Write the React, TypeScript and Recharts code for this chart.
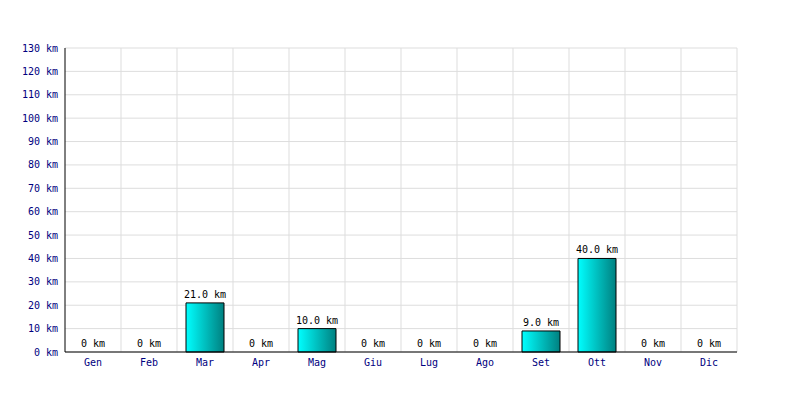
import { Bar, ComposedChart, CartesianGrid, Line, XAxis, YAxis } from 'recharts';

const months = ['Gen', 'Feb', 'Mar', 'Apr', 'Mag', 'Giu', 'Lug', 'Ago', 'Set', 'Ott', 'Nov', 'Dic'];
const distances = [0, 0, 21, 0, 10, 0, 0, 0, 9, 40, 0, 0];
const yTicks = [0, 10, 20, 30, 40, 50, 60, 70, 80, 90, 100, 110, 120, 130];

const data = months.map((month, i) => ({ month, km: distances[i] }));

const font = '"DejaVu Sans Mono", monospace';

const formatValue = (v: any) => (Number(v) === 0 ? '0 km' : `${Number(v).toFixed(1)} km`);

// labels hang off an invisible line so the zero months get one too
const ValueLabel = (props: any) => {
	const { x, y, value } = props;
	return (
		<text x={x} y={Number(y) - 5} textAnchor="middle" fill="#000" fontSize={10} fontFamily={font}>
			{formatValue(value)}
		</text>
	);
};

export default function App() {
	return (
		<div style={{ position: 'absolute', left: 0, top: 0, width: 800, height: 400, background: '#fff' }}>
			<ComposedChart
				width={800}
				height={400}
				data={data}
				margin={{ top: 48, right: 63, bottom: 0, left: 0 }}
				barSize={38}
			>
				<defs>
					<linearGradient id="barFill" x1="0" y1="0" x2="1" y2="0">
						<stop offset="0%" stopColor="#00ffff" />
						<stop offset="100%" stopColor="#008080" />
					</linearGradient>
				</defs>
				<CartesianGrid
					stroke="#dddddd"
					verticalCoordinatesGenerator={({ offset }: any) =>
						months.map((_, i) => offset.left + ((i + 1) * offset.width) / months.length)
					}
				/>
				<XAxis
					dataKey="month"
					height={48}
					axisLine={{ stroke: '#000' }}
					tickLine={false}
					tickMargin={1}
					tick={{ fill: '#000080', fontSize: 10, fontFamily: font }}
					interval={0}
				/>
				<YAxis
					width={65}
					domain={[0, 130]}
					ticks={yTicks}
					interval={0}
					axisLine={{ stroke: '#000' }}
					tickLine={false}
					tickMargin={1}
					tickFormatter={(v) => `${v} km`}
					tick={{ fill: '#000080', fontSize: 10, fontFamily: font }}
				/>
				<Bar dataKey="km" fill="url(#barFill)" stroke="#000" strokeWidth={1} isAnimationActive={false} />
				<Line
					dataKey="km"
					stroke="none"
					dot={false}
					activeDot={false}
					label={ValueLabel}
					isAnimationActive={false}
				/>
			</ComposedChart>
		</div>
	);
}
